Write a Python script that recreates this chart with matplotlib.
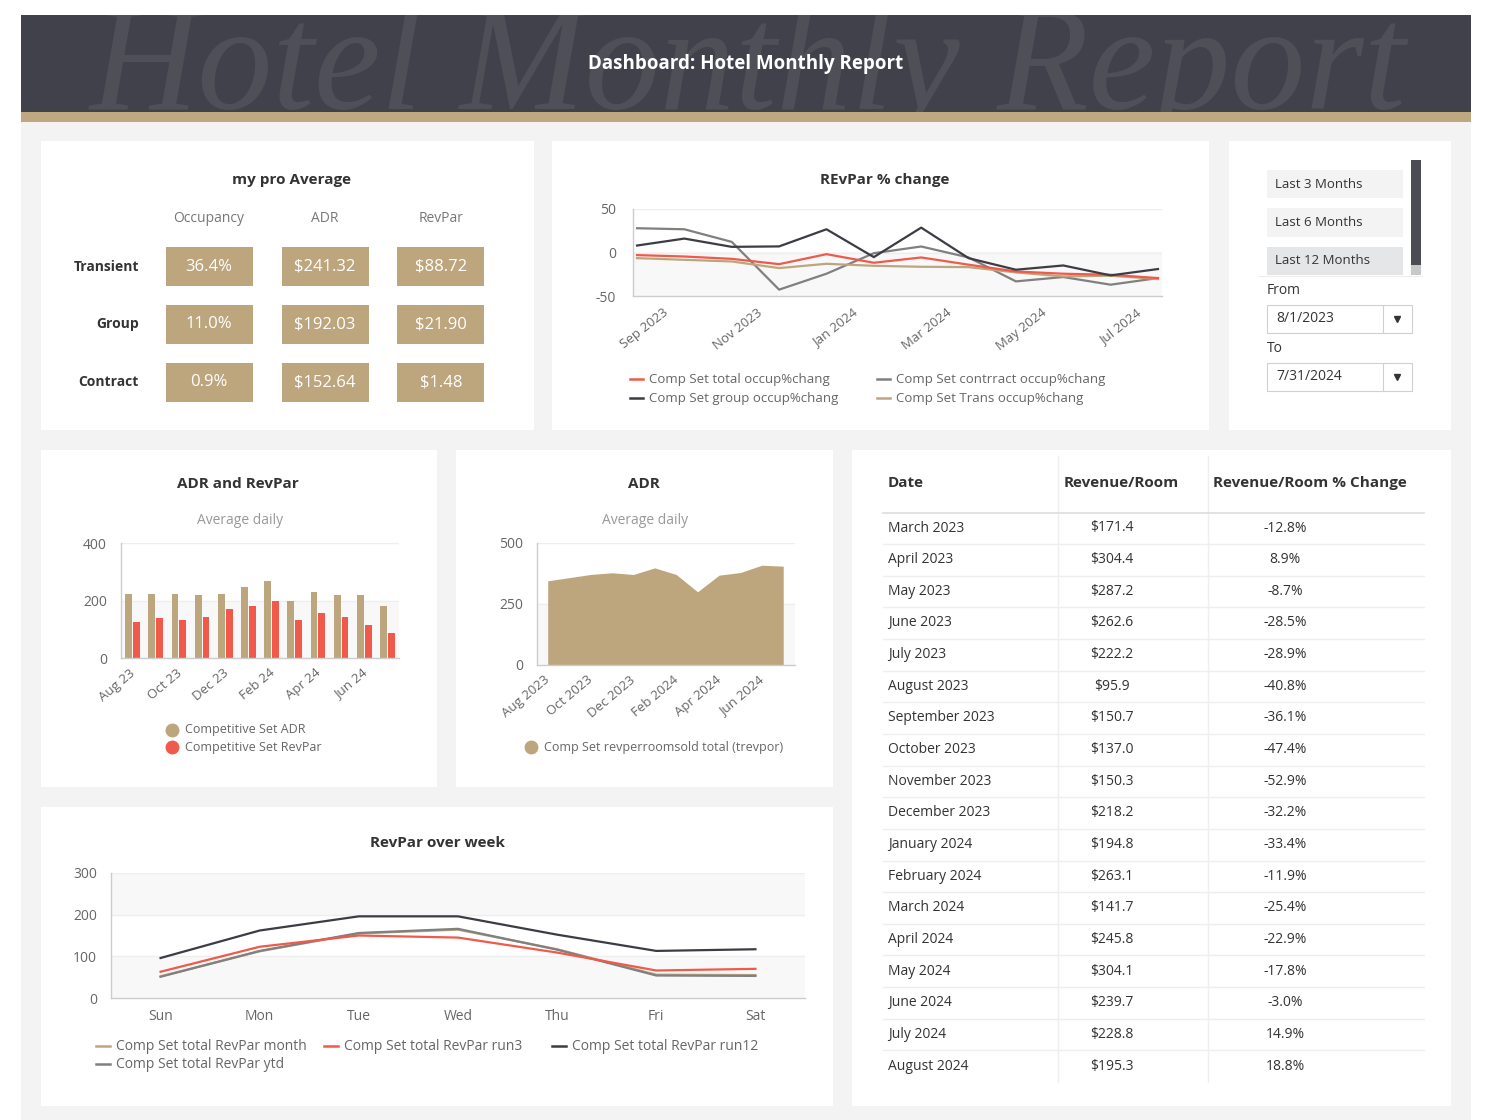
import matplotlib
matplotlib.use('Agg')
import matplotlib.pyplot as plt
from matplotlib.patches import Rectangle
from matplotlib.lines import Line2D
from matplotlib.transforms import ScaledTranslation
import numpy as np

plt.rcParams['font.family'] = ['Open Sans', 'DejaVu Sans']
plt.rcParams['axes.unicode_minus'] = False

# ---------------- DATA ----------------
segments = ['Transient', 'Group', 'Contract']
metrics = ['Occupancy', 'ADR', 'RevPar']
occupancy_vals = ['36.4%', '11.0%', '0.9%']
adr_vals = ['$241.32', '$192.03', '$152.64']
revpar_vals = ['$88.72', '$21.90', '$1.48']

chg_months = ['Aug 2023', 'Sep 2023', 'Oct 2023', 'Nov 2023', 'Dec 2023', 'Jan 2024',
              'Feb 2024', 'Mar 2024', 'Apr 2024', 'May 2024', 'Jun 2024', 'Jul 2024']
chg_total = [-3, -4.6, -7.3, -13.4, -1.9, -11.8, -5.7, -14, -21.8, -24.4, -25.6, -29.4]
chg_contract = [27.9, 26.7, 12.2, -42.7, -24.4, -0.8, 6.9, -5.7, -33.2, -28.2, -37, -29.4]
chg_group = [8, 16, 6.5, 7, 26.7, -5.3, 28.6, -6.5, -19.8, -14.9, -26.3, -19]
chg_trans = [-6.5, -8.4, -10.3, -17.9, -13, -15.3, -16.4, -16.8, -22.9, -27.5, -26.7, -30.5]

bar_months = ['Aug 23', 'Sep 23', 'Oct 23', 'Nov 23', 'Dec 23', 'Jan 24',
              'Feb 24', 'Mar 24', 'Apr 24', 'May 24', 'Jun 24', 'Jul 24']
comp_adr = [224, 224, 224, 220, 224, 247, 267, 197, 230, 220, 220, 180]
comp_revpar = [126, 140, 133, 143, 169, 180, 200, 133, 157, 143, 116, 86]

area_months = ['Aug 2023', 'Sep 2023', 'Oct 2023', 'Nov 2023', 'Dec 2023', 'Jan 2024',
               'Feb 2024', 'Mar 2024', 'Apr 2024', 'May 2024', 'Jun 2024', 'Jul 2024']
trevpor = [345, 358, 371, 378, 371, 398, 371, 300, 368, 379, 409, 405]

days = ['Sun', 'Mon', 'Tue', 'Wed', 'Thu', 'Fri', 'Sat']
wk_month = [52, 112, 155, 164, 117, 56, 55]
wk_run3 = [63, 123, 150, 145, 109, 66, 70]
wk_run12 = [96, 162, 196, 196, 152, 113, 117]
wk_ytd = [51, 113, 156, 166, 116, 54, 53]

table_dates = ['March 2023', 'April 2023', 'May 2023', 'June 2023', 'July 2023', 'August 2023',
               'September 2023', 'October 2023', 'November 2023', 'December 2023', 'January 2024',
               'February 2024', 'March 2024', 'April 2024', 'May 2024', 'June 2024', 'July 2024',
               'August 2024']
table_rev = ['$171.4', '$304.4', '$287.2', '$262.6', '$222.2', '$95.9', '$150.7', '$137.0', '$150.3',
             '$218.2', '$194.8', '$263.1', '$141.7', '$245.8', '$304.1', '$239.7', '$228.8', '$195.3']
table_chg = ['-12.8%', '8.9%', '-8.7%', '-28.5%', '-28.9%', '-40.8%', '-36.1%', '-47.4%', '-52.9%',
             '-32.2%', '-33.4%', '-11.9%', '-25.4%', '-22.9%', '-17.8%', '-3.0%', '14.9%', '18.8%']

slicer_items = ['Last 3 Months', 'Last 6 Months', 'Last 12 Months']
date_from = '8/1/2023'
date_to = '7/31/2024'

# ---------------- STYLE ----------------
TAN = '#bda67e'
RED = '#f05a4b'
DARK = '#3c3d44'
GRAY = '#808080'
TXT = '#333333'
LBL = '#666666'
BAND = '#f8f8f8'

W, H = 1496, 1120
fig = plt.figure(figsize=(W / 100, H / 100), dpi=100)
fig.patch.set_facecolor('white')


def fx(x):
    return x / W


def fy(y):
    return 1 - y / H


def rect(x0, y0, x1, y1, color, ec='none', lw=0, z=-1):
    fig.patches.append(Rectangle((fx(x0), fy(y1)), (x1 - x0) / W, (y1 - y0) / H,
                                 transform=fig.transFigure, facecolor=color,
                                 edgecolor=ec, linewidth=lw, zorder=z))


def text(x, y, s, **kw):
    kw.setdefault('va', 'center')
    fig.text(fx(x), fy(y), s, **kw)


def hline(x0, x1, y, color, lw=1.0, z=1):
    fig.add_artist(Line2D([fx(x0), fx(x1)], [fy(y), fy(y)], transform=fig.transFigure,
                          color=color, lw=lw, zorder=z))


def vline(x, y0, y1, color, lw=1.0, z=1):
    fig.add_artist(Line2D([fx(x), fx(x)], [fy(y0), fy(y1)], transform=fig.transFigure,
                          color=color, lw=lw, zorder=z))


def dot(x, y, color, ms=9):
    fig.add_artist(Line2D([fx(x)], [fy(y)], transform=fig.transFigure, marker='o',
                          markersize=ms, color=color, linestyle='none', zorder=3))


def add_axes(x0, y0, x1, y1):
    ax = fig.add_axes([fx(x0), fy(y1), (x1 - x0) / W, (y1 - y0) / H])
    ax.set_zorder(2)
    return ax


def style_axes(ax):
    for s in ['top', 'right']:
        ax.spines[s].set_visible(False)
    for s in ['left', 'bottom']:
        ax.spines[s].set_color('#cccccc')
        ax.spines[s].set_linewidth(1)
    ax.tick_params(length=0, colors=LBL, labelsize=10)
    ax.set_facecolor('white')


def shift_labels(ax, dx_px, dy_px):
    off = ScaledTranslation(dx_px / 100, dy_px / 100, fig.dpi_scale_trans)
    for lab in ax.get_xticklabels():
        lab.set_transform(lab.get_transform() + off)


# ---------------- BACKGROUND / HEADER ----------------
rect(21, 122, 1471, 1120, '#f3f3f3', z=-2)
rect(21, 112, 1471, 122, '#bfa87f', z=-2)
axh = add_axes(21, 15, 1471, 112)
axh.set_zorder(1)
axh.set_facecolor('#40414a')
axh.set_xticks([]); axh.set_yticks([])
for s in axh.spines.values():
    s.set_visible(False)
axh.set_xlim(0, 1450); axh.set_ylim(97, 0)
axh.text(727, 94, 'Hotel Monthly Report', family='Liberation Serif', style='italic',
         fontsize=108, color='#4e4f57', ha='center', va='baseline', clip_on=True)
text(746, 64, 'Dashboard: Hotel Monthly Report', ha='center', color='white',
     fontsize=13.5, fontweight='bold', zorder=5)

# panels
rect(41, 141, 534, 430, 'white')
rect(552, 141, 1209, 430, 'white')
rect(1229, 141, 1451, 430, 'white')
rect(41, 450, 437, 787, 'white')
rect(456, 450, 833, 787, 'white')
rect(852, 450, 1451, 1106, 'white')
rect(41, 807, 833, 1106, 'white')

# ---------------- PANEL 1: my pro Average ----------------
text(291, 180, 'my pro Average', ha='center', fontsize=11, fontweight='bold', color=TXT)
col_x = [209, 325, 441]
row_y = [267, 324, 382]
for cx, m in zip(col_x, metrics):
    text(cx, 218, m, ha='center', fontsize=10, color='#777777')
values = [occupancy_vals, adr_vals, revpar_vals]
for ri, (ry, seg) in enumerate(zip(row_y, segments)):
    text(139, ry, seg, ha='right', fontsize=10, fontweight='bold', color=TXT)
    for ci, cx in enumerate(col_x):
        rect(cx - 43.5, ry - 19.5, cx + 43.5, ry + 19.5, TAN, z=1)
        text(cx, ry, values[ci][ri], ha='center', fontsize=12, color='white', zorder=3)

# ---------------- PANEL 2: REvPar % change ----------------
text(885, 180, 'REvPar % change', ha='center', fontsize=11, fontweight='bold', color=TXT)
ax2 = add_axes(633, 209, 1162, 296)
style_axes(ax2)
x2 = np.arange(len(chg_months))
ax2.axhspan(-50, 0, color=BAND, zorder=0)
for yv in [0, 50]:
    ax2.axhline(yv, color='#eeeeee', lw=1, zorder=0.5)
ax2.plot(x2, chg_contract, color=GRAY, lw=1.6, zorder=2)
ax2.plot(x2, chg_trans, color=TAN, lw=1.6, zorder=2)
ax2.plot(x2, chg_total, color=RED, lw=1.6, zorder=3)
ax2.plot(x2, chg_group, color=DARK, lw=1.6, zorder=4)
ax2.set_ylim(-50, 50)
ax2.set_xlim(-0.085, 11.085)
ax2.set_yticks([-50, 0, 50])
ax2.tick_params(axis='y', pad=12)
ax2.set_xticks(x2[1::2])
ax2.set_xticklabels([chg_months[i] for i in x2[1::2]], rotation=38, ha='right',
                    rotation_mode='anchor', fontsize=9.5)
ax2.tick_params(axis='x', pad=6)
shift_labels(ax2, -22, -2)

leg2 = [(630, 379, RED, 'Comp Set total occup%chang'),
        (630, 398, DARK, 'Comp Set group occup%chang'),
        (877, 379, GRAY, 'Comp Set contrract occup%chang'),
        (877, 398, TAN, 'Comp Set Trans occup%chang')]
for lx, ly, c, lab in leg2:
    hline(lx, lx + 13, ly, c, lw=1.8, z=3)
    text(lx + 19, ly, lab, fontsize=9.5, color=LBL)

# ---------------- PANEL 3: slicer ----------------
for i, item in enumerate(slicer_items):
    y0 = 170 + i * 38.5
    rect(1267, y0, 1403, y0 + 28, '#e4e6e7' if i == 2 else '#f3f3f3', z=1)
    text(1275, y0 + 14, item, fontsize=9.5, color=TXT, zorder=3)
rect(1411, 160, 1421, 265, '#4a4b53', z=1)
rect(1411, 265, 1421, 275, '#c8c8c8', z=1)
hline(1258, 1422, 275.5, '#eeeeee', lw=0.8)
for lab, ly, dval in [('From', 290, date_from), ('To', 348, date_to)]:
    text(1267, ly, lab, fontsize=10, color=TXT)
    by = ly + 15
    rect(1267, by, 1412, by + 28, 'white', ec='#d0d0d0', lw=0.8, z=1)
    vline(1383, by, by + 28, '#d0d0d0', lw=0.8, z=2)
    fig.add_artist(Line2D([fx(1397)], [fy(by + 14)], transform=fig.transFigure, marker='v',
                          markersize=5, color=TXT, linestyle='none', zorder=3))
    text(1276, by + 14, dval, fontsize=10, color=TXT, zorder=3)

# ---------------- PANEL 4: ADR and RevPar bars ----------------
text(238, 484, 'ADR and RevPar', ha='center', fontsize=11, fontweight='bold', color=TXT)
text(240, 520, 'Average daily', ha='center', fontsize=10, color='#999999')
ax4 = add_axes(121, 543, 399, 658)
style_axes(ax4)
x4 = np.arange(len(bar_months))
ax4.axhspan(0, 200, color=BAND, zorder=0)
for yv in [200, 400]:
    ax4.axhline(yv, color='#eeeeee', lw=1, zorder=0.5)
ax4.bar(x4 - 0.17, comp_adr, width=0.29, color=TAN, zorder=2)
ax4.bar(x4 + 0.17, comp_revpar, width=0.29, color=RED, zorder=2)
ax4.set_ylim(0, 400)
ax4.set_xlim(-0.5, 11.5)
ax4.set_yticks([0, 200, 400])
ax4.tick_params(axis='y', pad=10)
ax4.set_xticks(x4[0::2])
ax4.set_xticklabels([bar_months[i] for i in x4[0::2]], rotation=40, ha='right',
                    rotation_mode='anchor', fontsize=9.5)
ax4.tick_params(axis='x', pad=6)
shift_labels(ax4, -3, 0)
dot(172, 730, TAN)
text(185, 730, 'Competitive Set ADR', fontsize=9, color=LBL)
dot(172, 747, RED)
text(185, 747, 'Competitive Set RevPar', fontsize=9, color=LBL)

# ---------------- PANEL 5: ADR area ----------------
text(644, 484, 'ADR', ha='center', fontsize=11, fontweight='bold', color=TXT)
text(645, 520, 'Average daily', ha='center', fontsize=10, color='#999999')
ax5 = add_axes(537, 543, 795, 665)
style_axes(ax5)
x5 = np.arange(len(area_months))
ax5.axhspan(0, 250, color=BAND, zorder=0)
for yv in [250, 500]:
    ax5.axhline(yv, color='#eeeeee', lw=1, zorder=0.5)
ax5.fill_between(x5, 0, trevpor, color=TAN, lw=0, zorder=2)
ax5.set_ylim(0, 500)
ax5.set_xlim(-0.5, 11.55)
ax5.set_yticks([0, 250, 500])
ax5.tick_params(axis='y', pad=10)
ax5.set_xticks(x5[0::2])
ax5.set_xticklabels([area_months[i] for i in x5[0::2]], rotation=40, ha='right',
                    rotation_mode='anchor', fontsize=9.5)
ax5.tick_params(axis='x', pad=6)
shift_labels(ax5, -4, 0)
dot(531, 747, TAN)
text(544, 747, 'Comp Set revperroomsold total (trevpor)', fontsize=9, color=LBL)

# ---------------- PANEL 7: RevPar over week ----------------
text(437, 843, 'RevPar over week', ha='center', fontsize=11, fontweight='bold', color=TXT)
ax7 = add_axes(111, 873, 805, 998)
style_axes(ax7)
x7 = np.arange(len(days))
ax7.axhspan(0, 100, color=BAND, zorder=0)
ax7.axhspan(200, 300, color=BAND, zorder=0)
for yv in [100, 200, 300]:
    ax7.axhline(yv, color='#eeeeee', lw=1, zorder=0.5)
ax7.plot(x7, wk_month, color=TAN, lw=1.6, zorder=2)
ax7.plot(x7, wk_ytd, color=GRAY, lw=1.6, zorder=3)
ax7.plot(x7, wk_run3, color=RED, lw=1.6, zorder=4)
ax7.plot(x7, wk_run12, color=DARK, lw=1.6, zorder=5)
ax7.set_ylim(0, 300)
ax7.set_xlim(-0.5, 6.5)
ax7.set_yticks([0, 100, 200, 300])
ax7.tick_params(axis='y', pad=10)
ax7.set_xticks(x7)
ax7.set_xticklabels(days, fontsize=10)
ax7.tick_params(axis='x', pad=8)
leg7 = [(96, 1046, TAN, 'Comp Set total RevPar month'),
        (324, 1046, RED, 'Comp Set total RevPar run3'),
        (552, 1046, DARK, 'Comp Set total RevPar run12'),
        (96, 1064, GRAY, 'Comp Set total RevPar ytd')]
for lx, ly, c, lab in leg7:
    hline(lx, lx + 14, ly, c, lw=1.8, z=3)
    text(lx + 20, ly, lab, fontsize=10, color=LBL)

# ---------------- PANEL 6: table ----------------
text(888, 483, 'Date', fontsize=11, fontweight='bold', color=TXT)
text(1064, 483, 'Revenue/Room', fontsize=11, fontweight='bold', color=TXT)
text(1213, 483, 'Revenue/Room % Change', fontsize=11, fontweight='bold', color=TXT)
vline(1058, 456, 1082, '#efefef')
vline(1208, 456, 1082, '#efefef')
hline(883, 1424, 512.5, '#dddddd', lw=1.2)
n = len(table_dates)
for i in range(n):
    ry = 528 + i * 31.65
    text(888, ry, table_dates[i], fontsize=10, color=TXT)
    text(1112, ry, table_rev[i], fontsize=10, color=TXT, ha='center')
    text(1285, ry, table_chg[i], fontsize=10, color=TXT, ha='center')
    if i < n - 1:
        hline(883, 1424, ry + 16, '#efefef', lw=1)

fig.savefig('out.png', dpi=100, facecolor='white')
